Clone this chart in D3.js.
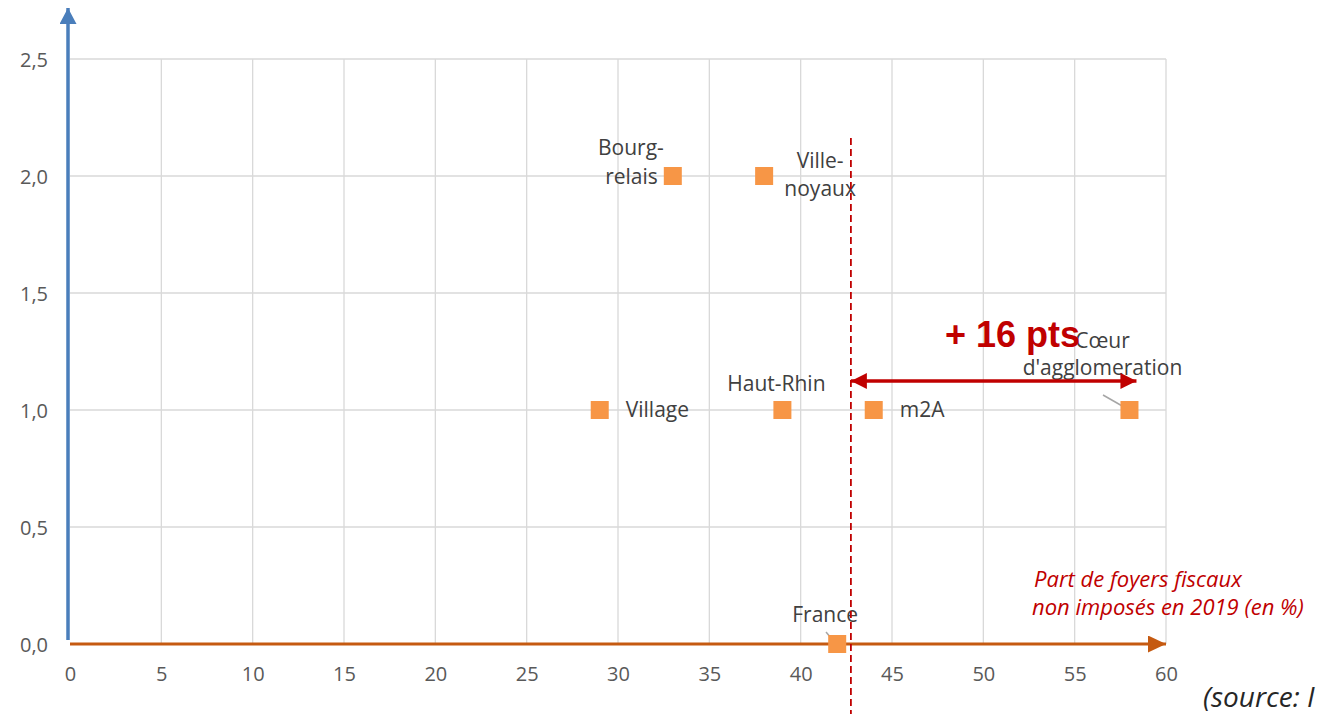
<!DOCTYPE html>
<html><head><meta charset="utf-8">
<script src="https://cdn.jsdelivr.net/npm/d3@7"></script>
<style>
html,body{margin:0;padding:0;background:#fff;overflow:hidden}
text{font-family:"Open Sans",sans-serif}
</style></head><body>
<svg id="c" width="1321" height="714"></svg>
<script>
const names = ["Bourg-relais","Ville-noyaux","Village","Haut-Rhin","m2A","Cœur d'agglomeration","France"];
const xValues = [33, 38, 29, 39, 44, 58, 42];
const yValues = [2.0, 2.0, 1.0, 1.0, 1.0, 1.0, 0.0];
const labelLines = [["Bourg-","relais"],["Ville-","noyaux"],["Village"],["Haut-Rhin"],["m2A"],["Cœur","d'agglomeration"],["France"]];
const xTicks = [0,5,10,15,20,25,30,35,40,45,50,55,60];
const yTicks = [0,0.5,1.0,1.5,2.0,2.5];
const refValue = 42.75;
const gapLabel = "+ 16 pts";
const axisTitle = ["Part de foyers fiscaux","non imposés en 2019 (en %)"];
const sourceText = "(source: I";

const svg = d3.select("#c");
const x = d3.scaleLinear().domain([0,60]).range([70,1166]);
const y = d3.scaleLinear().domain([0,2.5]).range([644,59]);
const fmtY = d => d.toFixed(1).replace(".", ",");
const FONT = "'Open Sans',sans-serif";

// grid
const g = svg.append("g");
g.selectAll(".vg").data(xTicks.slice(1)).join("line")
  .attr("x1",d=>x(d)).attr("x2",d=>x(d)).attr("y1",y(2.5)).attr("y2",y(0))
  .attr("stroke","#d9d9d9").attr("stroke-width",1.3);
g.selectAll(".hg").data(yTicks.slice(1)).join("line")
  .attr("x1",x(0)).attr("x2",x(60)).attr("y1",d=>y(d)).attr("y2",d=>y(d))
  .attr("stroke","#d9d9d9").attr("stroke-width",1.3);

// axes via d3
const xAxis = d3.axisBottom(x).tickValues(xTicks).tickSize(0).tickPadding(23).tickFormat(d=>d);
const yAxis = d3.axisLeft(y).tickValues(yTicks).tickSize(0).tickPadding(22).tickFormat(fmtY);
const xa = svg.append("g").attr("transform",`translate(0,${y(0)})`).call(xAxis);
const ya = svg.append("g").attr("transform",`translate(${x(0)},0)`).call(yAxis);
[xa,ya].forEach(a=>{
  a.select(".domain").remove();
  a.selectAll("text").attr("fill","#595959").style("font-size","20px").style("font-family",FONT);
});
ya.selectAll("text").attr("dy","0.36em");
xa.selectAll("text").attr("dy","0.71em");

// defs arrows
const defs = svg.append("defs");
function mk(id,color,w,h){
  defs.append("marker").attr("id",id).attr("viewBox",`0 0 ${w} ${h}`).attr("refX",w).attr("refY",h/2)
    .attr("markerWidth",w).attr("markerHeight",h).attr("markerUnits","userSpaceOnUse").attr("orient","auto-start-reverse")
    .append("path").attr("d",`M0,0L${w},${h/2}L0,${h}Z`).attr("fill",color);
}
mk("ab","#4a7ebb",16,17);
mk("ao","#c55a11",18,17);
mk("ar","#c00000",16,16);

// y axis line (blue)
svg.append("line").attr("x1",x(0)-2).attr("x2",x(0)-2).attr("y1",y(0)-4).attr("y2",8)
  .attr("stroke","#4a7ebb").attr("stroke-width",3.5).attr("marker-end","url(#ab)");
// x axis line (orange)
svg.append("line").attr("x1",x(0)).attr("x2",x(60)).attr("y1",y(0)).attr("y2",y(0))
  .attr("stroke","#c55a11").attr("stroke-width",3).attr("marker-end","url(#ao)");

// leader lines
const leaders = [[5,1103,395],[6,826,632]];
leaders.forEach(([i,lx,ly])=>{
  svg.append("line").attr("x1",lx).attr("y1",ly).attr("x2",x(xValues[i])-2).attr("y2",y(yValues[i])-1)
    .attr("stroke","#a6a6a6").attr("stroke-width",1.5);
});

// points
svg.selectAll(".pt").data(names).join("rect")
  .attr("x",(d,i)=>x(xValues[i])-9).attr("y",(d,i)=>y(yValues[i])-9)
  .attr("width",18).attr("height",18).attr("fill","#f79646");

// labels
const labelPos = [
  {dx:[-9,-15], dy:[-21,8], anchor:"end"},
  {dx:[56,56], dy:[-8,20], anchor:"middle"},
  {dx:[26], dy:[7], anchor:"start"},
  {dx:[-6], dy:[-19], anchor:"middle"},
  {dx:[26], dy:[7], anchor:"start"},
  {dx:[-27,-27], dy:[-62,-35], anchor:"middle"},
  {dx:[-12], dy:[-22], anchor:"middle"}
];
labelLines.forEach((lines,i)=>{
  const p = labelPos[i];
  const t = svg.append("text").attr("fill","#404040").style("font-size","21px").attr("text-anchor",p.anchor);
  lines.forEach((l,j)=>{
    t.append("tspan").attr("x",x(xValues[i])+p.dx[j]).attr("y",y(yValues[i])+p.dy[j]).text(l);
  });
});

// dashed reference line
svg.append("line").attr("x1",x(refValue)).attr("x2",x(refValue)).attr("y1",138).attr("y2",714)
  .attr("stroke","#c00000").attr("stroke-width",1.8).attr("stroke-dasharray","7,4");

// double arrow
svg.append("line").attr("x1",x(refValue)).attr("x2",x(58)+7).attr("y1",381).attr("y2",381)
  .attr("stroke","#c00000").attr("stroke-width",3.5)
  .attr("marker-start","url(#ar)").attr("marker-end","url(#ar)");

svg.append("text").attr("x",945).attr("y",347).attr("fill","#c00000")
  .style("font-family","'Liberation Sans',Arial,sans-serif").style("font-weight","bold").style("font-size","36px").text(gapLabel);

// axis title
const at = svg.append("text").attr("fill","#c00000").style("font-style","italic").style("font-size","22px");
axisTitle.forEach((l,j)=>at.append("tspan").attr("x",1034 - j*2).attr("y",587 + j*28).text(l));

// source
svg.append("text").attr("x",1203).attr("y",707).attr("fill","#262626").style("font-style","italic").style("font-size","28px").text(sourceText);
</script></body></html>
